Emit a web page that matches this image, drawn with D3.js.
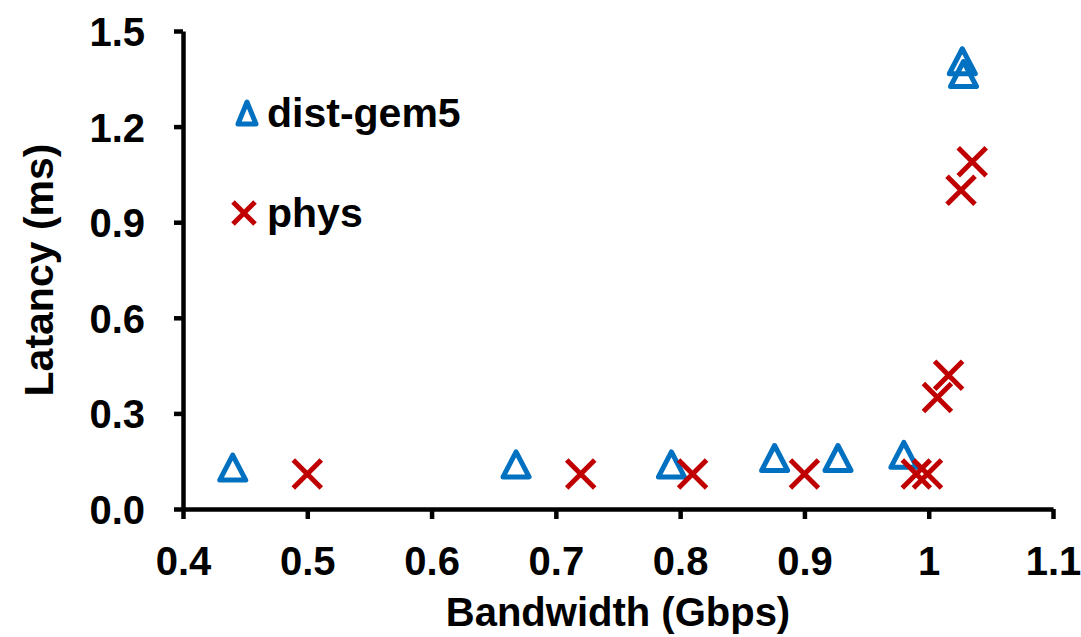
<!DOCTYPE html>
<html>
<head>
<meta charset="utf-8">
<script src="https://cdn.jsdelivr.net/npm/d3@7"></script>
<style>
  html, body { margin: 0; padding: 0; background: #fff; }
  svg { display: block; font-family: "Liberation Sans", Arial, sans-serif; font-weight: bold; }
</style>
</head>
<body>
<svg id="chart" width="1081" height="637"></svg>
<script>
// values
const gem5Bandwidth = [0.44, 0.668, 0.793, 0.876, 0.927, 0.98, 1.027, 1.028];
const gem5Latency   = [0.13, 0.14, 0.14, 0.16, 0.16, 0.17, 1.405, 1.365];

const physBandwidth = [0.5, 0.72, 0.81, 0.9, 0.99, 0.999, 1.007, 1.016, 1.026, 1.035];
const physLatency   = [0.11, 0.11, 0.11, 0.11, 0.11, 0.11, 0.35, 0.42, 1.0, 1.09];

const xTicks = [0.4, 0.5, 0.6, 0.7, 0.8, 0.9, 1.0, 1.1];
const xTickLabels = ['0.4', '0.5', '0.6', '0.7', '0.8', '0.9', '1', '1.1'];
const yTicks = [0, 0.3, 0.6, 0.9, 1.2, 1.5];
const yTickLabels = ['0.0', '0.3', '0.6', '0.9', '1.2', '1.5'];

const seriesNames = ['dist-gem5', 'phys'];

const BLUE = '#0070C0';
const RED  = '#C00000';

const svg = d3.select('#chart');

const x = d3.scaleLinear().domain([0.4, 1.1]).range([183, 1053]);
const y = d3.scaleLinear().domain([0, 1.5]).range([509, 31]);

// marker shapes, centred on their bounding box
const triPath = (hw, h) => `M0,${-h / 2}L${hw},${h / 2}L${-hw},${h / 2}Z`;
const crossPath = a => `M${-a},${-a}L${a},${a}M${-a},${a}L${a},${-a}`;

// ── axes ───────────────────────────────────────────────────────────────
const xAxis = svg.append('g')
  .attr('transform', `translate(0,${y(0)})`)
  .call(d3.axisBottom(x).tickValues(xTicks).tickSize(10).tickSizeOuter(0)
    .tickFormat((d, i) => xTickLabels[i]));

const yAxis = svg.append('g')
  .attr('transform', `translate(${x(0.4)},0)`)
  .call(d3.axisLeft(y).tickValues(yTicks).tickSize(9).tickSizeOuter(0)
    .tickFormat((d, i) => yTickLabels[i]));

[xAxis, yAxis].forEach(g => {
  g.attr('font-family', null).attr('font-size', null);
  g.selectAll('path.domain').attr('stroke', '#000').attr('stroke-width', 4.5);
  g.selectAll('.tick line').attr('stroke', '#000').attr('stroke-width', 4.5);
  g.selectAll('.tick text').attr('fill', '#000').style('font-size', '40px');
});
xAxis.selectAll('.tick text').attr('y', 66).attr('dy', null);
yAxis.selectAll('.tick text').attr('x', -38).attr('dy', '0.36em');

// ── axis titles ────────────────────────────────────────────────────────
svg.append('text')
  .attr('x', (x(0.4) + x(1.1)) / 2)
  .attr('y', 626)
  .attr('text-anchor', 'middle')
  .style('font-size', '40px')
  .text('Bandwidth (Gbps)');

svg.append('text')
  .attr('transform', `translate(53,${(y(0) + y(1.5)) / 2}) rotate(-90)`)
  .attr('text-anchor', 'middle')
  .style('font-size', '41px')
  .text('Latancy (ms)');

// ── points ─────────────────────────────────────────────────────────────
const gem5 = gem5Bandwidth.map((b, i) => ({ b, l: gem5Latency[i] }));
const phys = physBandwidth.map((b, i) => ({ b, l: physLatency[i] }));

svg.append('g').selectAll('path')
  .data(gem5)
  .join('path')
    .attr('transform', d => `translate(${x(d.b)},${y(d.l)})`)
    .attr('d', triPath(13, 25))
    .attr('fill', 'none')
    .attr('stroke', BLUE)
    .attr('stroke-width', 5)
    .attr('stroke-linejoin', 'round');

svg.append('g').selectAll('path')
  .data(phys)
  .join('path')
    .attr('transform', d => `translate(${x(d.b)},${y(d.l)})`)
    .attr('d', crossPath(14))
    .attr('fill', 'none')
    .attr('stroke', RED)
    .attr('stroke-width', 5);

// ── legend ─────────────────────────────────────────────────────────────
const legend = svg.append('g');
legend.append('path')
  .attr('transform', 'translate(247,113)')
  .attr('d', triPath(9, 22))
  .attr('fill', 'none').attr('stroke', BLUE)
  .attr('stroke-width', 5).attr('stroke-linejoin', 'round');
legend.append('text')
  .attr('x', 267).attr('y', 127)
  .style('font-size', '41px')
  .text(seriesNames[0]);

legend.append('path')
  .attr('transform', 'translate(244,213)')
  .attr('d', crossPath(11))
  .attr('fill', 'none').attr('stroke', RED)
  .attr('stroke-width', 5);
legend.append('text')
  .attr('x', 267).attr('y', 227)
  .style('font-size', '41px')
  .text(seriesNames[1]);
</script>
</body>
</html>
